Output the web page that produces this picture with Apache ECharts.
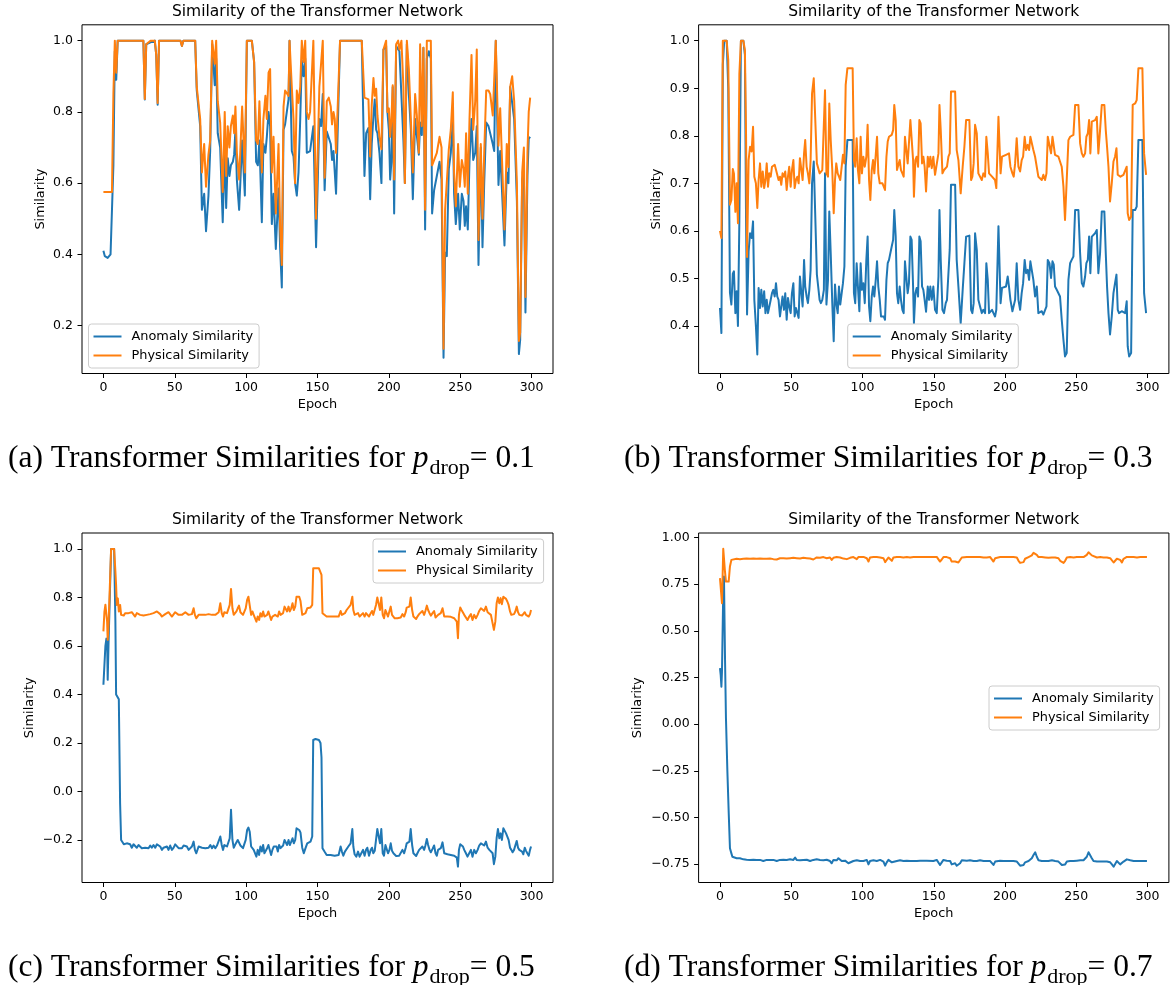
<!DOCTYPE html>
<html>
<head>
<meta charset="utf-8">
<script src="https://cdn.jsdelivr.net/npm/echarts@6/dist/echarts.min.js"></script>
<style>
html,body{margin:0;padding:0;background:#fff}
#chart{width:1173px;height:985px}
</style>
</head>
<body>
<div id="chart"></div>
<script>
// ---- tick labels and names ----
const xTicks = [0, 50, 100, 150, 200, 250, 300];
const yTicksA = [0.2, 0.4, 0.6, 0.8, 1.0];
const yTicksB = [0.4, 0.5, 0.6, 0.7, 0.8, 0.9, 1.0];
const yTicksC = [-0.2, 0.0, 0.2, 0.4, 0.6, 0.8, 1.0];
const yTicksD = [-0.75, -0.5, -0.25, 0.0, 0.25, 0.5, 0.75, 1.0];
const seriesNames = ['Anomaly Similarity', 'Physical Similarity'];
const panelTitle = 'Similarity of the Transformer Network';
const panelLetters = ['(a)', '(b)', '(c)', '(d)'];
const dropRates = ['0.1', '0.3', '0.5', '0.7'];

// ---- (a) p_drop = 0.1 ----
const epochsA = [
  0,1,2,3,4,5,6,7,8,9,
  10,28,29,30,33,36,37,38,39,54,
  55,56,64.3,65.4,67.8,69,70.6,71.9,73.6,74.8,
  76.2,78,79,80.1,81.8,83.6,85,86,87.1,88.3,
  89.3,90.7,91.6,92.5,93.5,95.1,97.2,99.1,100.5,104,
  105.6,107,108.2,109.3,111,112.1,113.5,114.5,115.7,116.8,
  118,119.2,120.8,122.7,123.8,125,126.2,127.3,129.7,130.4,
  132,133.2,134.3,135.5,136.7,137.9,139,140.2,141.4,142.5,
  143.7,144.8,147.1,149,151.3,152.5,153.7,155,156.5,157.9,
  159.3,160.2,161.2,162.1,163,165.8,181,182.9,184.1,185.7,
  186.9,188,189.2,190.1,191.1,192,193.4,194.8,196.2,198.1,
  199,200,200.9,201.8,202.7,203.7,205.1,206.5,207.4,208.8,
  210.2,211.2,212.6,214,215.4,216.8,218.4,219.6,221,221.9,
  223.1,224.2,225.4,226.6,228,229.4,230.3,231.7,233.6,235.5,
  236.9,238.3,239.4,240.6,242,243.4,244.8,245.7,246.9,248.5,
  249.7,251.1,252.3,253.2,254.1,255.3,256.5,257.9,259.1,260.5,
  261.6,262.8,264.4,265.6,266.8,268.2,269.8,271,272.8,273.8,
  274.9,276.8,278,279.1,281,282.6,283.8,285,286.4,287.8,
  289.7,291.1,292,293.4,294.6,295.7,297.1,298,299
];
const anomalyA = [
  .41,.395,.40,.39,.395,.40,.395,.65,.97,.89,
  1,1,.835,.99,.995,1,.96,.82,1,1,
  .985,1,1,.86,.76,.525,.57,.465,.565,.69,
  .99,.875,.95,.74,.70,.49,.70,.53,.67,.62,
  .65,.66,.68,.75,.61,.525,.72,.565,1,1,
  .94,.66,.65,.72,.49,.71,.685,.73,.80,.76,
  .485,.57,.415,.585,.42,.307,.75,.765,.835,1,
  .69,.675,.60,.565,.63,.78,.945,.90,.95,.685,
  .685,.69,.76,.42,.78,.76,.85,.58,.745,.74,
  .71,.665,.69,.685,.57,1,1,.62,.74,.755,
  .555,.71,.79,.835,.75,.74,.685,.60,.975,.985,
  .80,.75,.61,.66,.87,.515,.985,.985,.97,.965,
  .72,.60,.99,.85,.75,.555,.78,.78,.68,.77,
  .735,.98,.47,.95,.97,.95,.515,.58,.62,.66,
  .61,.11,.405,.395,.64,.685,.78,.57,.485,.57,
  .47,.57,.55,.48,.535,.47,.665,.78,.665,.685,
  .76,.37,.70,.42,.60,.77,.76,.755,.71,.69,
  1,.595,.69,.69,.425,.63,.60,.87,.87,.78,
  .55,.12,.16,.61,.63,.237,.62,.725,.73
];
const physicalA = [
  .575,.57,.575,.57,.575,.57,.575,.85,1,.91,
  1,1,.836,.99,1,1,.96,.825,1,1,
  .985,1,1,.87,.78,.63,.71,.59,.68,.72,
  1,.935,1,.83,.77,.575,.80,.62,.76,.70,
  .76,.79,.74,.815,.685,.61,.815,.63,1,1,
  .94,.72,.71,.83,.63,.78,.845,.78,.91,.92,
  .63,.73,.515,.71,.48,.37,.815,.86,.845,1,
  .87,.78,.60,.86,.825,.87,1,.94,1,.80,
  .78,.80,1,.50,.87,.865,1,.615,.83,.84,
  .815,.765,.80,.78,.685,1,1,.84,.845,.835,
  .675,.82,.895,.845,.865,.79,.73,.695,.975,1,
  .80,.81,.73,.78,.875,.61,.99,1,.975,1,
  .87,.60,1,.92,.78,.63,.85,.79,.685,.99,
  .76,.98,.525,1,1,1,.65,.65,.685,.73,
  .70,.135,.525,.52,.695,.75,.855,.63,.535,.71,
  .59,.665,.64,.59,.74,.57,.78,.96,.75,.83,
  .975,.44,.71,.50,.685,.86,.86,.85,.79,.795,
  1,.705,.81,.805,.47,.71,.645,.87,.90,.83,
  .60,.157,.18,.63,.70,.28,.685,.80,.84
];

// ---- (b) p_drop = 0.3 ----
const epochsB = [
  0,1,2,3,4.7,5.8,7,8,9,9.8,
  10.8,11.7,12.6,13.6,14.7,16.4,17.5,18.3,19,20.1,
  21.1,22.2,23.2,24.1,25.2,26.2,27.1,28.1,29,30,
  31,31.9,32.8,33.7,34.6,35.6,36.5,37.4,38.4,39.3,
  40.2,41.1,42.1,43,43.9,44.9,45.8,46.8,47.7,48.6,
  49.6,50.5,51.5,52.4,53.3,54.3,55.2,56.1,57.1,58,
  59,59.8,60.8,61.7,62.7,63.6,64.6,65.8,67,68,
  68.9,69.9,70.8,71.8,72.9,73.7,74.7,75.8,76.7,77.7,
  78.8,79.8,80.7,81.6,82.6,83.5,84.4,85.4,86.3,87.3,
  88.2,89.4,93.1,94,94.9,95.9,96.8,97.8,98.7,99.6,
  100.6,101.6,102.7,103.6,104.6,105.5,106.5,107.4,108.3,109.3,
  110.2,111.1,112.1,113,114,114.9,115.8,116.8,117.7,118.6,
  119.6,120.5,121.5,122.3,123.3,124.2,125.1,126.1,127,128,
  128.9,129.8,130.8,131.7,132.6,133.6,134.5,135.5,136.1,137.1,
  138,139,139.9,140.8,141.8,142.7,143.6,144.6,145.8,146.7,
  147.6,148.6,149.7,150.9,152.1,153.3,154,154.9,156.1,157.2,
  158.4,159.3,160.3,161.2,162.1,165,166.1,167.3,168.9,170.3,
  171.5,172.7,175,176.2,177.1,178,179,180.2,181.3,182.5,
  183.7,184.8,186,186.9,187.9,188.8,190,190.9,191.9,193,
  193.9,195.4,196.9,197.9,199.3,200.7,201.9,202.8,203.8,205.2,
  206.1,207.1,208.2,209.4,210.6,211.7,212.7,213.8,214.8,215.9,
  216.9,217.8,218.8,219.9,221.1,222.3,223.4,224.4,225.8,226.9,
  228.1,229.1,230,231.2,232.3,233.3,234.2,235.1,236.3,237.5,
  238.6,239.8,241,242.1,243.3,244.5,245.7,246.8,248,249.2,
  251.5,252.7,253.9,255,256.2,257.1,258.1,259,259.9,260.9,
  262,263.2,264.4,265.5,266.7,267.9,269.7,270.7,271.6,272.6,
  273.7,274.9,276.1,277.2,278.2,279.1,280,281,281.9,283.1,
  284.3,285.4,286.1,287.1,288.5,289.6,291.3,292.4,293.6,296.4,
  297.6,299
];
const anomalyB = [
  .438,.385,.95,1,1,.90,.47,.445,.51,.515,
  .427,.473,.40,.62,1,1,.97,.62,.424,.557,
  .595,.585,.62,.455,.40,.34,.48,.438,.476,.441,
  .473,.427,.455,.427,.431,.455,.469,.476,.462,.49,
  .462,.455,.42,.441,.462,.434,.469,.413,.459,.441,
  .427,.469,.49,.42,.438,.427,.417,.504,.469,.441,
  .539,.483,.462,.448,.476,.518,.70,.746,.742,.508,
  .483,.455,.448,.455,.476,.721,.445,.497,.641,.553,
  .448,.368,.487,.448,.427,.483,.445,.469,.49,.525,
  .735,.791,.791,.469,.448,.532,.483,.431,.532,.476,
  .49,.448,.539,.588,.441,.41,.462,.483,.462,.497,
  .536,.483,.455,.42,.417,.42,.413,.497,.532,.539,
  .536,.567,.581,.644,.588,.469,.448,.483,.455,.434,
  .427,.536,.532,.469,.49,.588,.581,.483,.406,.469,
  .48,.462,.588,.578,.483,.476,.455,.43,.483,.455,
  .483,.455,.483,.434,.427,.504,.644,.539,.434,.427,
  .448,.455,.511,.56,.697,.697,.539,.483,.406,.476,
  .532,.588,.59,.434,.427,.448,.595,.56,.455,.441,
  .427,.434,.427,.532,.497,.427,.427,.434,.427,.42,
  .434,.61,.448,.48,.48,.483,.504,.483,.455,.431,
  .427,.455,.532,.455,.434,.469,.49,.539,.511,.518,
  .497,.536,.536,.497,.462,.483,.427,.424,.431,.424,
  .427,.441,.539,.532,.501,.536,.529,.483,.476,.48,
  .462,.413,.371,.336,.343,.497,.532,.539,.546,.644,
  .644,.553,.49,.483,.504,.532,.539,.588,.511,.588,
  .592,.595,.602,.511,.553,.641,.641,.553,.483,.427,
  .382,.42,.469,.49,.508,.434,.427,.427,.431,.427,
  .427,.452,.357,.336,.343,.644,.644,.651,.791,.791,
  .469,.427
];
const physicalB = [
  .60,.585,1,1,1,.96,.655,.665,.73,.72,
  .64,.70,.616,.93,1,1,.98,.80,.545,.749,
  .777,.767,.819,.714,.70,.648,.707,.742,.693,.725,
  .69,.707,.742,.693,.721,.714,.735,.732,.739,.742,
  .718,.707,.714,.697,.721,.714,.725,.686,.714,.735,
  .693,.728,.749,.69,.707,.714,.70,.753,.749,.707,
  .763,.791,.735,.721,.70,.749,.889,.921,.921,.742,
  .742,.721,.721,.728,.728,.896,.721,.714,.868,.791,
  .728,.637,.707,.742,.721,.714,.707,.707,.76,.742,
  .907,.942,.942,.749,.735,.795,.728,.70,.798,.721,
  .756,.735,.756,.823,.707,.665,.728,.749,.721,.76,
  .798,.721,.70,.697,.70,.693,.686,.756,.788,.798,
  .798,.802,.812,.865,.833,.728,.732,.749,.728,.721,
  .714,.798,.798,.742,.746,.833,.83,.749,.672,.749,
  .756,.735,.833,.826,.742,.756,.735,.683,.756,.735,
  .756,.732,.756,.718,.718,.763,.865,.812,.721,.728,
  .732,.735,.756,.763,.893,.893,.77,.749,.679,.735,
  .777,.833,.833,.707,.714,.742,.823,.805,.721,.718,
  .707,.721,.714,.798,.763,.721,.718,.714,.718,.707,
  .69,.84,.721,.756,.756,.76,.763,.763,.735,.721,
  .714,.742,.795,.735,.725,.749,.756,.798,.77,.781,
  .77,.798,.802,.77,.756,.756,.714,.714,.707,.718,
  .707,.721,.798,.798,.763,.798,.798,.76,.756,.756,
  .756,.735,.693,.623,.623,.791,.798,.802,.802,.865,
  .865,.784,.763,.756,.763,.798,.805,.833,.763,.83,
  .83,.833,.84,.763,.812,.865,.865,.812,.777,.735,
  .662,.70,.746,.756,.774,.718,.718,.714,.718,.718,
  .718,.735,.637,.623,.63,.865,.868,.875,.942,.942,
  .763,.718
];

// ---- (c) p_drop = 0.5 ----
const epochsC = [
  0,0.7,1.4,2.1,2.6,3,3.6,4.7,5.4,7.5,
  8.4,8.9,9.4,10.1,10.8,11.7,12.4,13.3,14.3,15.2,
  16.4,17.6,18.7,19.9,21.1,22.2,23.4,24.6,25.7,26.9,
  28.1,29.3,30.4,31.6,32.8,33.9,35.1,36.3,37.5,38.6,
  39.8,41,42.1,43.3,44.5,45.6,46.8,48,49.2,50.3,
  51.5,52.7,53.8,55,56.2,57.4,58.5,59.7,60.9,62,
  63.2,64.1,65.1,65.8,66.7,67.9,69.1,70.2,71.4,72.6,
  73.7,74.9,76.1,77.2,78.4,79.6,80.8,81.9,82.9,83.8,
  84.7,85.7,86.6,87.5,88.5,89.4,90.4,91.3,92.2,93.2,
  94.1,95,96,96.9,97.8,98.8,99.7,100.7,101.6,102.5,
  103.5,104.4,105.3,106.3,107.2,108.1,109.1,110,111,111.9,
  112.8,113.8,114.7,115.6,116.6,117.5,118.4,119.4,120.3,121.3,
  122.2,123.1,124.1,125,125.9,126.9,127.8,128.7,129.7,130.6,
  131.6,132.5,133.4,134.4,135.3,136.2,137.2,138.1,139.3,140.4,
  141.6,142.8,143.9,145.1,146.3,147,148.6,151,152.1,152.8,
  153.5,154.9,156.4,157.8,159.2,160.6,162,163.4,164.8,166.2,
  167.1,168.1,169.2,170.4,171.6,173.2,174.4,175.1,176,177.2,
  178.4,179.5,180.7,181.9,183,184,184.9,186.1,187.3,188.2,
  189.1,190.1,191,191.9,193.1,193.8,194.7,195.7,196.6,197.6,
  198.5,199.4,200.4,201.3,202.2,203.2,204.1,205.1,206,207.2,
  208.3,209.5,210.7,211.8,212.5,213.5,214.4,215.3,216.3,217.2,
  218.2,219.1,220,221.2,222.4,223.5,224.7,225.6,226.6,227.5,
  228.5,229.4,230.6,231.7,232.7,233.6,234.5,235.5,236.4,237.6,
  238.8,239.9,241.1,242.3,243.4,244.6,245.8,246.9,247.6,248.4,
  249.1,250,250.9,251.9,252.8,254,255.1,256.3,257.5,258.6,
  259.8,261,262.2,263.3,264.5,265.7,266.8,268,269.2,270.4,
  271.5,272.7,273.6,274.6,275.5,276.4,277.4,278.3,279.2,280.2,
  281.1,282.1,283,283.9,284.9,285.8,286.7,287.7,288.6,289.6,
  290.5,291.4,292.4,293.3,294.2,295.2,296.1,297,298,298.9,
  299.6
];
const anomalyC = [
  .44,.52,.60,.63,.62,.46,.61,.85,1,1,
  .70,.40,.40,.40,.38,-.05,-.20,-.207,-.218,-.218,
  -.214,-.221,-.218,-.232,-.218,-.223,-.232,-.221,-.227,-.234,
  -.227,-.232,-.227,-.234,-.223,-.232,-.221,-.232,-.218,-.214,
  -.227,-.241,-.232,-.234,-.227,-.241,-.223,-.241,-.232,-.218,
  -.214,-.234,-.241,-.234,-.223,-.221,-.227,-.241,-.248,-.227,
  -.207,-.241,-.255,-.262,-.227,-.234,-.232,-.227,-.234,-.241,
  -.232,-.221,-.234,-.223,-.234,-.223,-.218,-.186,-.221,-.241,
  -.221,-.227,-.227,-.227,-.193,-.076,-.200,-.232,-.221,-.214,
  -.200,-.193,-.223,-.227,-.234,-.227,-.200,-.159,-.149,-.166,
  -.227,-.221,-.241,-.234,-.269,-.241,-.262,-.227,-.248,-.221,
  -.255,-.262,-.234,-.221,-.223,-.262,-.241,-.227,-.234,-.227,
  -.248,-.221,-.234,-.232,-.223,-.200,-.207,-.221,-.200,-.221,
  -.207,-.193,-.214,-.200,-.152,-.152,-.159,-.17,-.232,-.255,
  -.234,-.214,-.221,-.207,-.186,.212,.216,.212,.20,.14,
  -.234,-.248,-.262,-.255,-.262,-.255,-.265,-.259,-.262,-.227,
  -.248,-.265,-.248,-.241,-.227,-.214,-.155,-.227,-.259,-.269,
  -.248,-.269,-.255,-.241,-.265,-.241,-.232,-.265,-.241,-.232,
  -.255,-.245,-.200,-.155,-.159,-.214,-.155,-.255,-.265,-.221,
  -.214,-.255,-.241,-.214,-.245,-.255,-.262,-.266,-.259,-.265,
  -.266,-.241,-.255,-.232,-.214,-.221,-.207,-.155,-.221,-.255,
  -.262,-.266,-.255,-.241,-.248,-.227,-.241,-.223,-.196,-.221,
  -.241,-.251,-.237,-.223,-.255,-.265,-.241,-.248,-.234,-.210,
  -.255,-.262,-.259,-.262,-.262,-.262,-.265,-.269,-.273,-.310,
  -.241,-.218,-.223,-.227,-.241,-.255,-.269,-.255,-.241,-.269,
  -.241,-.255,-.241,-.223,-.214,-.207,-.223,-.207,-.232,-.241,
  -.241,-.255,-.300,-.269,-.193,-.155,-.193,-.173,-.200,-.152,
  -.155,-.173,-.186,-.200,-.232,-.241,-.251,-.241,-.223,-.204,
  -.232,-.241,-.237,-.248,-.259,-.232,-.245,-.255,-.265,-.241,
  -.227
];
const physicalC = [
  .66,.74,.77,.77,.70,.625,.687,.88,1,1,
  .907,.85,.769,.796,.742,.769,.728,.731,.725,.735,
  .728,.735,.728,.739,.731,.721,.735,.728,.728,.731,
  .725,.731,.728,.735,.731,.728,.735,.735,.742,.744,
  .731,.721,.728,.731,.735,.739,.731,.721,.728,.739,
  .744,.728,.721,.728,.735,.739,.735,.728,.721,.731,
  .755,.728,.714,.707,.728,.731,.728,.731,.728,.728,
  .731,.739,.728,.735,.728,.735,.739,.776,.735,.721,
  .739,.735,.735,.728,.769,.835,.755,.728,.735,.742,
  .755,.766,.739,.735,.728,.735,.755,.790,.803,.803,
  .728,.742,.728,.731,.700,.721,.707,.735,.721,.742,
  .721,.714,.728,.742,.739,.707,.721,.728,.728,.735,
  .721,.742,.728,.728,.735,.762,.755,.742,.762,.742,
  .755,.776,.748,.762,.803,.803,.803,.785,.728,.721,
  .735,.755,.748,.758,.769,.92,.92,.92,.92,.893,
  .735,.728,.721,.728,.721,.728,.721,.714,.721,.744,
  .728,.721,.735,.748,.755,.769,.803,.748,.728,.721,
  .735,.721,.728,.735,.721,.735,.742,.721,.735,.744,
  .728,.735,.769,.80,.797,.748,.80,.728,.714,.748,
  .755,.721,.728,.762,.728,.721,.714,.707,.714,.721,
  .717,.731,.721,.739,.758,.755,.762,.80,.748,.721,
  .714,.711,.721,.731,.728,.744,.728,.744,.766,.748,
  .735,.725,.735,.744,.717,.710,.728,.725,.735,.755,
  .721,.717,.721,.717,.720,.717,.714,.707,.700,.632,
  .728,.758,.748,.744,.728,.721,.707,.721,.731,.707,
  .728,.714,.728,.744,.755,.762,.744,.762,.739,.731,
  .728,.721,.666,.700,.776,.80,.776,.797,.772,.803,
  .80,.794,.783,.769,.742,.728,.725,.731,.742,.762,
  .739,.728,.735,.725,.721,.739,.728,.721,.721,.731,
  .748
];

// ---- (d) p_drop = 0.7 ----
const epochsD = [
  0,0.5,1,1.4,2.3,2.8,3.5,4.2,5.2,6.1,
  7,8,8.7,9.4,11.7,14,16.4,18.7,21.1,23.4,
  25.7,28.1,30.4,32.8,35.1,36.3,37.5,39.8,42.1,44.5,
  46.8,49.2,51.5,52.7,53.8,56.2,58.5,60.9,63.2,65.5,
  66.7,67.9,69.1,70.2,72.6,73.7,74.9,77.2,78.4,79.6,
  81.9,83.1,84.3,85.4,86.6,87.8,89,90.1,91.3,93.6,
  96,97.1,98.3,100.7,103,104.2,105.3,107.7,110,112.4,
  114.7,115.9,117,118.2,119.4,120.6,121.7,124.1,126.4,128.7,
  131.1,133.4,135.8,138.1,140.4,145.1,149.8,152.1,153.3,154.4,
  155.6,156.8,159.1,160.3,161.5,162.6,163.8,165,166.1,167.3,
  168.5,169.7,170.8,173.2,175.5,177.9,180.2,182.5,184.9,187.2,
  189.6,190.7,191.9,193.1,194.2,196.6,198.9,201.3,203.6,205.9,
  208.3,209.5,210.6,211.8,213,214.1,215.3,216.5,217.6,218.8,
  220,221.2,222.3,223.5,225.8,228.2,230.5,232.9,235.2,237.5,
  238.7,239.9,241.1,242.2,243.4,245.7,248.1,250.4,252.8,255.1,
  256.3,257.4,258.6,259.8,260.9,262.1,264.5,266.8,269.1,271.5,
  273.8,275,276.2,277.3,278.5,279.7,280.8,282,283.2,284.4,
  285.5,286.7,287.9,289,290.2,291.4,292.6,294.9,297.2,299.6
];
const anomalyD = [
  .30,.264,.201,.28,.711,.791,.371,.032,-.254,-.468,
  -.665,-.692,-.710,-.718,-.718,-.718,-.724,-.726,-.727,-.726,
  -.727,-.727,-.733,-.727,-.727,-.718,-.727,-.733,-.727,-.726,
  -.727,-.724,-.727,-.715,-.727,-.729,-.727,-.726,-.733,-.727,
  -.727,-.724,-.718,-.727,-.729,-.727,-.726,-.733,-.745,-.727,
  -.729,-.718,-.727,-.733,-.729,-.731,-.736,-.745,-.736,-.733,
  -.729,-.731,-.733,-.733,-.727,-.751,-.733,-.729,-.733,-.727,
  -.736,-.758,-.740,-.727,-.736,-.740,-.733,-.733,-.729,-.733,
  -.731,-.733,-.733,-.733,-.731,-.731,-.733,-.727,-.736,-.754,
  -.740,-.727,-.731,-.727,-.733,-.751,-.758,-.745,-.758,-.754,
  -.745,-.729,-.727,-.731,-.729,-.733,-.733,-.729,-.733,-.733,
  -.733,-.740,-.754,-.736,-.729,-.731,-.733,-.733,-.733,-.733,
  -.736,-.745,-.758,-.761,-.754,-.740,-.733,-.733,-.727,-.718,
  -.701,-.686,-.710,-.729,-.733,-.733,-.733,-.729,-.733,-.736,
  -.745,-.754,-.761,-.751,-.736,-.733,-.733,-.731,-.729,-.729,
  -.724,-.710,-.686,-.692,-.718,-.733,-.736,-.736,-.736,-.736,
  -.740,-.751,-.763,-.754,-.733,-.736,-.751,-.758,-.736,-.729,
  -.724,-.718,-.729,-.733,-.733,-.736,-.733,-.733,-.733,-.733
];
const physicalD = [
  .782,.791,.782,.648,.939,.934,.818,.764,.755,.764,
  .845,.88,.884,.886,.886,.884,.886,.887,.886,.887,
  .886,.887,.886,.886,.887,.887,.884,.882,.889,.889,
  .887,.889,.891,.886,.889,.887,.891,.889,.887,.882,
  .889,.893,.891,.891,.895,.887,.889,.893,.88,.891,
  .895,.886,.893,.891,.887,.891,.884,.875,.891,.895,
  .884,.895,.889,.896,.889,.871,.893,.895,.895,.893,
  .889,.868,.880,.893,.884,.875,.893,.895,.895,.893,
  .895,.893,.895,.895,.895,.895,.895,.896,.886,.871,
  .882,.895,.895,.893,.889,.871,.862,.871,.864,.866,
  .871,.893,.895,.895,.895,.895,.895,.896,.893,.893,
  .895,.886,.871,.889,.895,.895,.895,.895,.895,.895,
  .893,.875,.864,.862,.868,.886,.893,.895,.896,.904,
  .918,.925,.907,.895,.895,.893,.891,.893,.893,.889,
  .875,.866,.864,.875,.893,.895,.893,.895,.896,.895,
  .896,.907,.921,.921,.904,.895,.893,.895,.893,.893,
  .889,.880,.866,.868,.886,.893,.880,.866,.886,.895,
  .896,.900,.895,.893,.895,.886,.893,.895,.895,.895
];

// ---- drawing ----
const COLORS = ['#1f77b4', '#ff7f0e'];
const SANS = '"DejaVu Sans", sans-serif';
const SERIF = '"Liberation Serif", "DejaVu Serif", serif';

const panels = [
  { left: 82,    top: 24.8, width: 471,   height: 348.7, yMin: 0.0655, yMax: 1.0445, ticks: yTicksA, dec: 1, yGap: 35,   legend: { left: 88.5, top: 324 }, capX: 8,   capY: 459, ep: epochsA, an: anomalyA, ph: physicalA },
  { left: 698.6, top: 24.8, width: 470.3, height: 348.7, yMin: 0.3,    yMax: 1.0335, ticks: yTicksB, dec: 1, yGap: 35,   legend: { left: 847.7, top: 324 }, capX: 624, capY: 459, ep: epochsB, an: anomalyB, ph: physicalB },
  { left: 82,    top: 533,  width: 471,   height: 349.5, yMin: -0.3755, yMax: 1.0655, ticks: yTicksC, dec: 1, yGap: 45.5, legend: { left: 373, top: 539 }, capX: 8,   capY: 968, ep: epochsC, an: anomalyC, ph: physicalC },
  { left: 698.6, top: 533,  width: 470.3, height: 349.5, yMin: -0.848, yMax: 1.024, ticks: yTicksD, dec: 2, yGap: 54,   legend: { left: 989, top: 686 }, capX: 624, capY: 968, ep: epochsD, an: anomalyD, ph: physicalD }
];

function pairs(xs, ys) { return xs.map((x, i) => [x, ys[i]]); }
function fmt(dec) {
  return v => (v < -1e-9 ? '\u2212' : '') + Math.abs(v).toFixed(dec);
}

const grid = [], xAxis = [], yAxis = [], series = [], legend = [], graphic = [];

panels.forEach((p, i) => {
  grid.push({ left: p.left, top: p.top, width: p.width, height: p.height,
    show: true, borderColor: '#000', borderWidth: 1, backgroundColor: '#fff',
    containLabel: false, outerBoundsMode: 'none' });

  xAxis.push({ type: 'value', gridIndex: i, min: -15, max: 315, position: 'bottom',
    axisLine: { show: false, onZero: false }, splitLine: { show: false },
    axisTick: { show: true, customValues: xTicks, length: 4.5, lineStyle: { color: '#000', width: 1 } },
    axisLabel: { customValues: xTicks, margin: 8, color: '#000', fontFamily: SANS, fontSize: 12.5, formatter: v => String(v) },
    name: 'Epoch', nameLocation: 'middle', nameGap: 25,
    nameTextStyle: { color: '#000', fontFamily: SANS, fontSize: 12.9 } });

  yAxis.push({ type: 'value', gridIndex: i, min: p.yMin, max: p.yMax, position: 'left',
    axisLine: { show: false, onZero: false }, splitLine: { show: false },
    axisTick: { show: true, customValues: p.ticks, length: 4.5, lineStyle: { color: '#000', width: 1 } },
    axisLabel: { customValues: p.ticks, margin: 9, color: '#000', fontFamily: SANS, fontSize: 12.5, formatter: fmt(p.dec) },
    name: 'Similarity', nameLocation: 'middle', nameGap: p.yGap, nameRotate: 90,
    nameTextStyle: { color: '#000', fontFamily: SANS, fontSize: 12.9 } });

  [p.an, p.ph].forEach((vals, k) => {
    series.push({ type: 'line', name: seriesNames[k], xAxisIndex: i, yAxisIndex: i,
      data: pairs(p.ep, vals), showSymbol: false, symbol: 'none', z: 2 + k,
      color: COLORS[k], itemStyle: { color: COLORS[k] },
      lineStyle: { width: 2, color: COLORS[k], join: 'round', cap: 'butt' },
      animation: false });
  });

  legend.push({ orient: 'vertical', left: p.legend.left, top: p.legend.top,
    data: seriesNames, selectedMode: false, icon: 'rect',
    itemWidth: 28, itemHeight: 2, itemGap: 4, padding: [5, 6, 5, 5],
    backgroundColor: 'rgba(255,255,255,0.8)', borderColor: '#cccccc', borderWidth: 1, borderRadius: 3,
    textStyle: { color: '#000', fontFamily: SANS, fontSize: 12.9, lineHeight: 15, padding: [0, 0, 0, 5] } });

  graphic.push({ type: 'text', x: p.left + p.width / 2, y: p.top - 13, silent: true,
    style: { text: panelTitle, font: '15.5px ' + SANS, fill: '#000',
      align: 'center', verticalAlign: 'middle', textAlign: 'center', textVerticalAlign: 'middle' } });

  graphic.push({ type: 'text', x: p.capX, y: p.capY, silent: true,
    style: {
      text: '{n|' + panelLetters[i] + ' Transformer Similarities for }{i|p}{s|drop}{n|= ' + dropRates[i] + '}',
      verticalAlign: 'middle', textVerticalAlign: 'middle', align: 'left',
      rich: {
        n: { fontFamily: SERIF, fontSize: 31.5, fill: '#000', color: '#000' },
        i: { fontFamily: SERIF, fontSize: 31.5, fontStyle: 'italic', fill: '#000', color: '#000' },
        s: { fontFamily: SERIF, fontSize: 22, fill: '#000', color: '#000', padding: [18, 0, 0, 1] }
      }
    } });
});

const chart = echarts.init(document.getElementById('chart'), null, { renderer: 'canvas' });
chart.setOption({ animation: false, backgroundColor: '#fff', grid, xAxis, yAxis, series, legend, graphic });
</script>
</body>
</html>
